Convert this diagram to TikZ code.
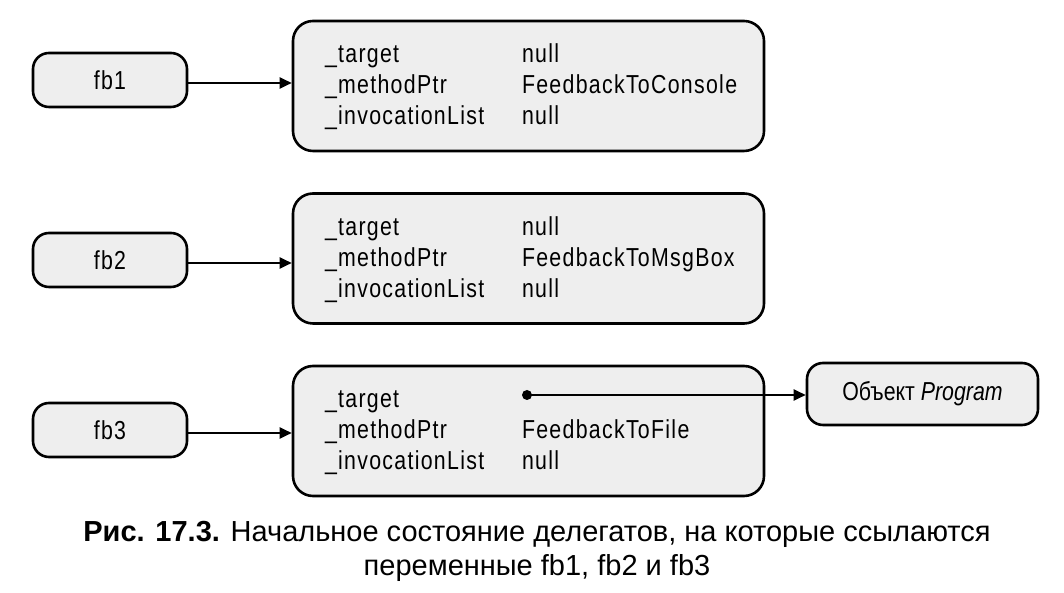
\documentclass[tikz,border=0pt]{standalone}
\usepackage{fontspec}
\setmainfont[FakeStretch=0.82]{Liberation Sans}
\newfontfamily\fieldfont[FakeStretch=0.82,LetterSpace=5]{Liberation Sans}
\newfontfamily\capfont{Liberation Sans}
\usetikzlibrary{arrows.meta}
\begin{document}
\begin{tikzpicture}[x=1pt,y=1pt,
  varbox/.style={draw=black,fill=boxColor,line width=2.6pt,rounded corners=16pt,
    minimum width=154pt,minimum height=54pt,inner sep=0pt,font=\fieldfont\fontsize{26}{30}\selectfont},
  objbox/.style={draw=black,fill=boxColor,line width=2.6pt,rounded corners=20pt,
    minimum width=471pt,minimum height=130pt,inner sep=0pt},
  field/.style={anchor=base west,inner sep=0pt,outer sep=0pt,font=\fieldfont\fontsize{26}{30}\selectfont},
  caption/.style={anchor=base,inner sep=0pt,font=\capfont\fontsize{29}{34}\selectfont},
  link/.style={line width=2pt,-{Triangle[length=12pt,width=11pt]}}]
\definecolor{boxColor}{RGB}{238,238,238}
\path[use as bounding box,fill=white] (0,0) rectangle (1064,593);

% variables
\node[varbox] (fb1) at (110,513) {fb1};
\node[varbox] (fb2) at (110,333) {fb2};
\node[varbox] (fb3) at (110,163) {fb3};

% delegate objects
\node[objbox] (d1) at (528.5,507) {};
\node[objbox] (d2) at (528.5,334.5) {};
\node[objbox] (d3) at (528.5,162) {};

\node[field] (t1) at (325,530) {\_target};
\node[field] (m1) at (325,499) {\_methodPtr};
\node[field] (i1) at (325,468) {\_invocationList};
\node[field] (tv1) at (522,530) {null};
\node[field] (mv1) at (522,499) {FeedbackToConsole};
\node[field] (iv1) at (522,468) {null};

\node[field] (t2) at (325,357) {\_target};
\node[field] (m2) at (325,326) {\_methodPtr};
\node[field] (i2) at (325,295) {\_invocationList};
\node[field] (tv2) at (522,357) {null};
\node[field] (mv2) at (522,326) {FeedbackToMsgBox};
\node[field] (iv2) at (522,295) {null};

\node[field] (t3) at (325,185) {\_target};
\node[field] (m3) at (325,154) {\_methodPtr};
\node[field] (i3) at (325,123) {\_invocationList};
\node[field] (mv3) at (522,154) {FeedbackToFile};
\node[field] (iv3) at (522,123) {null};
\coordinate (tv3) at (527,198);

% target object
\node[draw=black,fill=boxColor,line width=2.6pt,rounded corners=16pt,
  minimum width=231pt,minimum height=62pt,inner sep=0pt,
  font=\fontsize{26}{30}\selectfont] (prog) at (922.5,199) {Объект \textit{Program}};

% references
\draw[link] (fb1.east) ++(0,-3) coordinate (s1) -- (d1.west |- s1);
\draw[link] (fb2.east) ++(0,-3) coordinate (s2) -- (d2.west |- s2);
\draw[link] (fb3.east) ++(0,-3) coordinate (s3) -- (d3.west |- s3);
\fill (tv3) circle (5pt);
\draw[link] (tv3) -- (prog.west |- tv3);

% caption
\node[caption] (cap1) at (537,51)
  {\textbf{Рис. 17.3.} Начальное состояние делегатов, на которые ссылаются};
\node[caption] (cap2) at (537,17) {переменные fb1, fb2 и fb3};
\end{tikzpicture}
\end{document}
